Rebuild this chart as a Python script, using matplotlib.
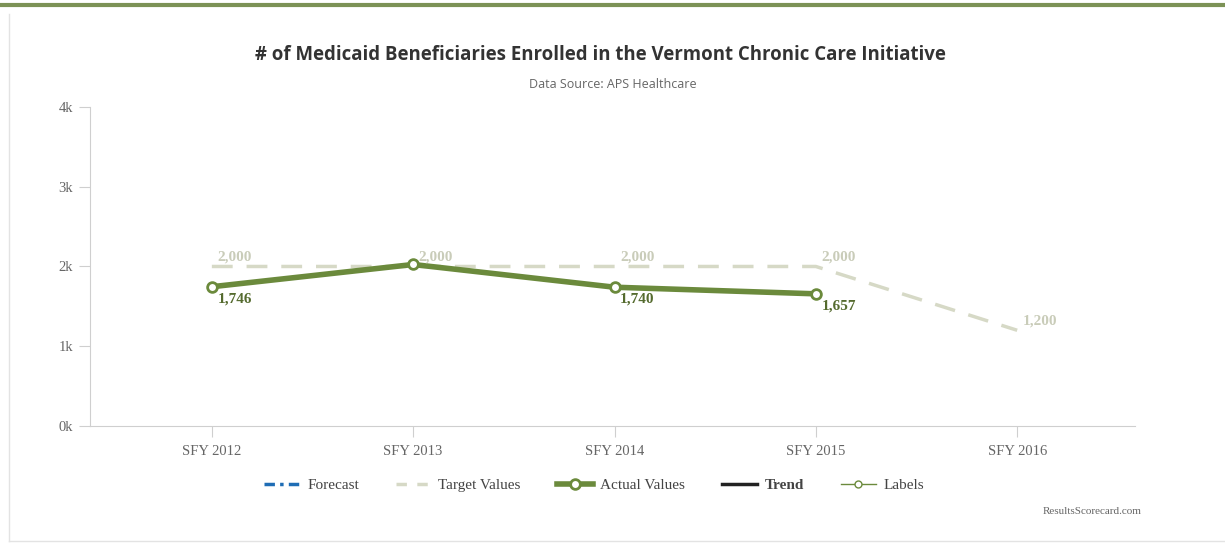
import numpy as np
import matplotlib.pyplot as plt
from matplotlib.lines import Line2D

# data
years = ["SFY 2012", "SFY 2013", "SFY 2014", "SFY 2015", "SFY 2016"]
target = [2000, 2000, 2000, 2000, 1200]
actual = [1746, 2025, 1740, 1657]
actual_labels = ["1,746", "", "1,740", "1,657"]
target_labels = ["2,000", "2,000", "2,000", "2,000", "1,200"]

green = "#6b8a3c"
light = "#d6d9c6"
light_txt = "#c9ccb9"
axis_gray = "#cfcfcf"
serif = ["Liberation Serif", "DejaVu Serif"]

fig = plt.figure(figsize=(12.25, 5.43), dpi=100)
ax = fig.add_axes([0.0735, 0.2155, 0.853, 0.5875])

x = np.arange(len(years))

ax.plot(x, target, color=light, lw=2.5, dashes=(6, 4), zorder=2)
ax.plot(x[:len(actual)], actual, color=green, lw=4, zorder=3,
        marker="o", ms=7, mfc="white", mec=green, mew=2)

for i, (v, t) in enumerate(zip(target, target_labels)):
    ax.annotate(t, (i, v), xytext=(4, 2), textcoords="offset points",
                color=light_txt, fontsize=11, fontweight="bold",
                family=serif, ha="left", va="bottom")
for i, (v, t) in enumerate(zip(actual, actual_labels)):
    if t:
        ax.annotate(t, (i, v), xytext=(4, -4), textcoords="offset points",
                    color="#556b2f", fontsize=11, fontweight="bold",
                    family=serif, ha="left", va="top")

ax.set_xlim(-0.605, 4.585)
ax.set_ylim(0, 4000)
ax.set_yticks([0, 1000, 2000, 3000, 4000])
ax.set_yticklabels(["0k", "1k", "2k", "3k", "4k"])
ax.set_xticks(x)
ax.set_xticklabels(years)
for lab in ax.get_xticklabels() + ax.get_yticklabels():
    lab.set_family(serif)
    lab.set_fontsize(10.5)
    lab.set_color("#666666")
ax.tick_params(axis="y", length=8, color=axis_gray, pad=4)
ax.tick_params(axis="x", length=8, color=axis_gray, pad=6)
for s in ["top", "right"]:
    ax.spines[s].set_visible(False)
for s in ["left", "bottom"]:
    ax.spines[s].set_color(axis_gray)

fig.text(0.49, 0.898, "# of Medicaid Beneficiaries Enrolled in the Vermont Chronic Care Initiative",
         ha="center", va="center", fontsize=13.4, fontweight="bold",
         family="Open Sans", color="#333333")
fig.text(0.5, 0.845, "Data Source: APS Healthcare", ha="center", va="center",
         fontsize=9, family="Open Sans", color="#666666")

handles = [
    Line2D([], [], color="#1f6db5", lw=2.5, linestyle=(0, (3, 1.5, 1, 1.5))),
    Line2D([], [], color=light, lw=2.5, dashes=(3, 3)),
    Line2D([], [], color=green, lw=4, marker="o", ms=7, mfc="white", mec=green, mew=2),
    Line2D([], [], color="#222222", lw=2.5),
    Line2D([], [], color=green, lw=1, marker="o", ms=5, mfc="white", mec=green, mew=1),
]
names = ["Forecast", "Target Values", "Actual Values", "Trend", "Labels"]
leg = fig.legend(handles, names, loc="center", bbox_to_anchor=(0.485, 0.106),
                 ncol=5, frameon=False, handlelength=2.3, handletextpad=0.5,
                 columnspacing=2.4, prop={"family": serif, "size": 11})
for t in leg.get_texts():
    t.set_color("#444444")
leg.get_texts()[3].set_fontweight("bold")

fig.text(0.932, 0.058, "ResultsScorecard.com", ha="right", va="center",
         fontsize=8, family=serif, color="#666666")

# frame decorations
fig.add_artist(Line2D([0, 1], [0.991, 0.991], color="#7c9256", lw=3,
                      transform=fig.transFigure))
fig.add_artist(Line2D([0.007, 0.007], [0.004, 0.975], color="#e3e3e3", lw=1,
                      transform=fig.transFigure))
fig.add_artist(Line2D([0.007, 1], [0.004, 0.004], color="#e3e3e3", lw=1,
                      transform=fig.transFigure))

fig.savefig("out.png", dpi=100)
